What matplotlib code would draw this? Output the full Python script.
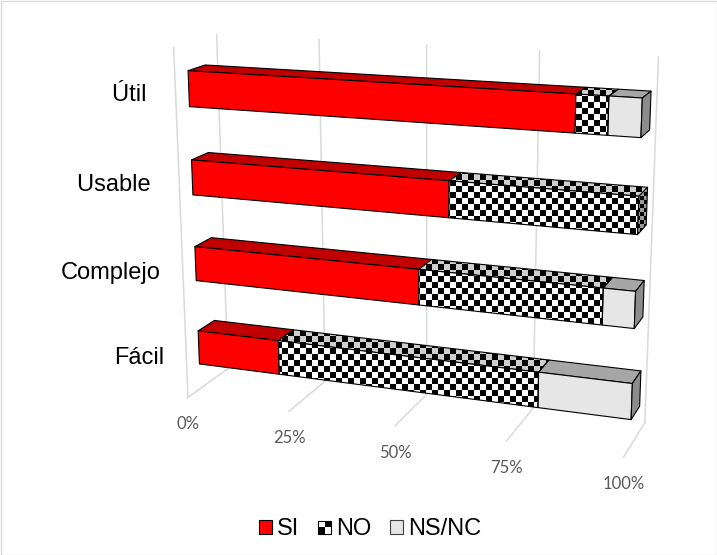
import numpy as np
import matplotlib
matplotlib.use('Agg')
import matplotlib.pyplot as plt
from matplotlib.patches import Polygon, Rectangle, Patch
from matplotlib.colors import to_rgb
from matplotlib.legend_handler import HandlerBase

plt.rcParams['font.family'] = ['Liberation Sans', 'DejaVu Sans']

# porcentaje de respuestas por pregunta (de abajo hacia arriba)
categorias = ['Fácil', 'Complejo', 'Usable ', 'Útil ']
si = [20.0, 53.3, 60.0, 86.7]
no = [60.0, 40.0, 40.0, 6.7]
nsnc = [20.0, 6.7, 0.0, 6.7]
series = ['SI', 'NO', 'NS/NC']
ticks = [0.0, 0.25, 0.5, 0.75, 1.0]
tick_labels = ['0%', '25%', '50%', '75%', '100%']

W, H = 717, 555
fig = plt.figure(figsize=(W / 100, H / 100), dpi=100)
ax = fig.add_axes([0, 0, 1, 1])

# caja 3D: (valor 0..1, categoria 0..4, profundidad 0..1) -> pixel
marco_3d = np.array([
    [0, 0, 0], [0.25, 0, 0], [0.5, 0, 0], [0.75, 0, 0], [1, 0, 0],
    [0, 4, 0], [0, 4, 1], [0.25, 4, 1], [0.5, 4, 1], [0.75, 4, 1], [1, 4, 1],
    [1, 0, 1], [0, 0, 1],
], dtype=float)
marco_px = np.array([
    [188, 398], [289, 411], [395, 426], [507, 441], [623, 457],
    [174, 47], [216, 35], [319, 40], [427, 45], [540, 51], [658, 57],
    [645, 423], [228, 368],
], dtype=float)


def ajustar_camara(p3, p2):
    filas = []
    for (x, y, z), (u, v) in zip(p3, p2 / 100.0):
        X = [x, y, z, 1.0]
        filas.append(X + [0, 0, 0, 0] + [-u * c for c in X])
        filas.append([0, 0, 0, 0] + X + [-v * c for c in X])
    _, _, vt = np.linalg.svd(np.array(filas))
    return vt[-1].reshape(3, 4)


P = ajustar_camara(marco_3d, marco_px)


def proy(x, y, z):
    q = P @ np.array([x, y, z, 1.0])
    return q[0] / q[2] * 100.0, q[1] / q[2] * 100.0


def cara(puntos):
    return np.array([proy(*p) for p in puntos])


def cara_lisa(verts, color, z):
    ax.add_patch(Polygon(verts, closed=True, facecolor=color, edgecolor='black',
                         lw=0.8, joinstyle='round', zorder=z))


def cara_ajedrez(verts, claro, z, celda=6):
    x0, x1 = int(np.floor(verts[:, 0].min())), int(np.ceil(verts[:, 0].max()))
    y0, y1 = int(np.floor(verts[:, 1].min())), int(np.ceil(verts[:, 1].max()))
    gx, gy = np.meshgrid(np.arange(x0, x1), np.arange(y0, y1))
    m = ((gx // celda + gy // celda) % 2).astype(bool)
    img = np.where(m[..., None], np.array(to_rgb('black')), np.array(to_rgb(claro)))
    borde = Polygon(verts, closed=True, facecolor='none', edgecolor='black',
                    lw=0.8, joinstyle='round', zorder=z + 0.1)
    ax.add_patch(borde)
    im = ax.imshow(img, extent=(x0, x1, y1, y0), interpolation='nearest',
                   aspect='auto', zorder=z)
    im.set_clip_path(borde)


# lineas de division: pared del fondo y suelo
gris = '#D9D9D9'
for t in ticks:
    a = cara([(t, 0, 1), (t, 4, 1)])
    ax.plot(a[:, 0], a[:, 1], color=gris, lw=1.1, zorder=1)
    b = cara([(t, 0, 0), (t, 0, 1)])
    ax.plot(b[:, 0], b[:, 1], color=gris, lw=1.1, zorder=1)
eje = cara([(0, 0, 0), (0, 4, 0)])
ax.plot(eje[:, 0], eje[:, 1], color=gris, lw=1.1, zorder=1)

# etiquetas del eje de valores
for t, lab in zip(ticks, tick_labels):
    x, y = proy(t, 0, 0)
    ax.text(x, y + 27, lab, ha='center', va='center', fontsize=12,
            family=['Lato', 'DejaVu Sans'], color='#595959')

# estilos de cada serie: frente, arriba, lado
estilos = [
    ('liso', '#FF0000', '#C00000', '#A00000'),
    ('ajedrez', 'white', '#CFCFCF', '#9A9A9A'),
    ('liso', '#E6E6E6', '#A6A6A6', '#8C8C8C'),
]

tabla = np.array([si, no, nsnc], dtype=float)
tabla = tabla / tabla.sum(axis=0)
v_lo, v_hi = 0.3, 0.7
w_lo, w_hi = 0.3, 0.7

for i, cat in enumerate(categorias):
    y0, y1 = i + v_lo, i + v_hi
    acum = np.concatenate([[0], np.cumsum(tabla[:, i])])
    ultimo = max(k for k in range(3) if tabla[k, i] > 0)
    for k in range(3):
        a, b = acum[k], acum[k + 1]
        if b - a <= 0:
            continue
        tipo, c_frente, c_arriba, c_lado = estilos[k]
        frente = cara([(a, y0, w_lo), (b, y0, w_lo), (b, y1, w_lo), (a, y1, w_lo)])
        arriba = cara([(a, y1, w_lo), (b, y1, w_lo), (b, y1, w_hi), (a, y1, w_hi)])
        lado = cara([(b, y0, w_lo), (b, y0, w_hi), (b, y1, w_hi), (b, y1, w_lo)])
        z = 3 + i
        if tipo == 'liso':
            cara_lisa(arriba, c_arriba, z)
            cara_lisa(frente, c_frente, z + 0.2)
            if k == ultimo:
                cara_lisa(lado, c_lado, z + 0.4)
        else:
            cara_ajedrez(arriba, c_arriba, z)
            cara_ajedrez(frente, c_frente, z + 0.2)
            if k == ultimo:
                cara_ajedrez(lado, c_lado, z + 0.4, celda=4)

    x, y = proy(0, i + 0.5, 0)
    ax.text(x - 22, y + 2, cat, ha='right', va='center', fontsize=17, color='black')


class IconoAjedrez(HandlerBase):
    def create_artists(self, legend, orig, xd, yd, w, h, fontsize, trans):
        s = min(w, h)
        x0, y0 = -xd, -yd
        arts = []
        for i in range(2):
            for j in range(2):
                c = 'black' if (i + j) % 2 == 0 else 'white'
                arts.append(Rectangle((x0 + i * s / 2, y0 + j * s / 2), s / 2, s / 2,
                                      facecolor=c, edgecolor='none', transform=trans))
        arts.append(Rectangle((x0, y0), s, s, facecolor='none', edgecolor='black',
                              lw=0.8, transform=trans))
        return arts


h_si = Patch(facecolor='#FF0000', edgecolor='black', lw=0.8)
h_no = Patch(facecolor='white', edgecolor='black')
h_ns = Patch(facecolor='#E6E6E6', edgecolor='#404040', lw=0.8)
fig.legend([h_si, h_no, h_ns], series, loc='center', bbox_to_anchor=(370 / W, 1 - 529 / H),
           ncol=3, frameon=False, fontsize=17, handlelength=0.55, handleheight=0.55,
           handletextpad=0.2, columnspacing=0.8, handler_map={h_no: IconoAjedrez()})

ax.add_patch(Rectangle((0.5, 0.5), W - 1, H - 1, facecolor='none', edgecolor=gris,
                       lw=1.0, zorder=0))
ax.set_xlim(0, W)
ax.set_ylim(H, 0)
ax.axis('off')

fig.savefig('out.png', dpi=100)
